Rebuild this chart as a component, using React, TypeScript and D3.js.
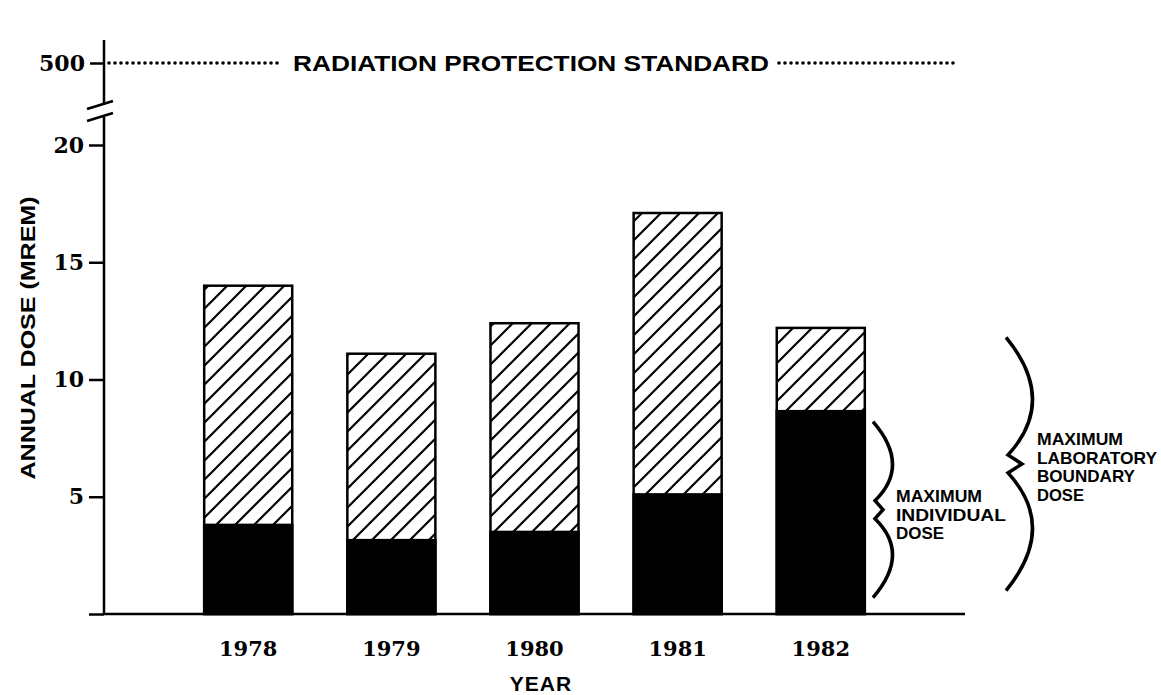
import React, { useRef, useEffect } from "react";
import * as d3 from "d3";

// values (mrem)
const years = ["1978", "1979", "1980", "1981", "1982"];
const boundaryDose = [14.0, 11.1, 12.4, 17.1, 12.2];
const individualDose = [3.8, 3.15, 3.5, 5.1, 8.65];
const lowerTicks = [0, 5, 10, 15, 20];
const upperTicks = [500];
const standardDose = 500;
const standardLabel = "RADIATION PROTECTION STANDARD";
const braceRanges = [
  [0.7, 8.2],
  [1.0, 11.8],
];
const braceLabels = [
  ["MAXIMUM", "INDIVIDUAL", "DOSE"],
  ["MAXIMUM", "LABORATORY", "BOUNDARY", "DOSE"],
];
// printed widths of the label lines, px
const braceLabelWidths = [
  [86, 110, 48],
  [86, 120, 98, 47],
];

const W = 1161;
const H = 695;
const axisX = 104;
const axisEnd = 965;
const baseY = 614;
const numFont = "'DejaVu Serif', serif";
const txtFont = "'Liberation Sans', Arial, sans-serif";

// brace drawn like the plotter one: two bulging arcs with a small notch pointing right
function bracePath(x0: number, top: number, bot: number, bulge: number, cusp: number) {
  const mid = (top + bot) / 2;
  const p = d3.path();
  p.moveTo(x0, top);
  p.quadraticCurveTo(x0 + bulge * 2, (top + mid) / 2, x0 + 2, mid - 9);
  p.lineTo(x0 + cusp, mid);
  p.lineTo(x0 + 2, mid + 9);
  p.quadraticCurveTo(x0 + bulge * 2, (mid + bot) / 2, x0, bot);
  return p.toString();
}

const App = () => {
  const yAxisRef = useRef<SVGGElement>(null);
  const topAxisRef = useRef<SVGGElement>(null);
  const xAxisRef = useRef<SVGGElement>(null);

  const x = d3
    .scaleBand<string>()
    .domain(years)
    .range([axisX, axisEnd])
    .paddingInner(0.385)
    .paddingOuter(0.7);
  const y = d3.scaleLinear().domain([0, 20]).range([baseY, 145]);
  const yTop = d3.scaleLinear().domain([490, 510]).range([73, 53]);

  useEffect(() => {
    const yAxis = d3
      .axisLeft(y)
      .tickValues(lowerTicks)
      .tickSize(15)
      .tickPadding(5)
      .tickFormat((d) => (d === 0 ? "" : String(d)));
    const g = d3.select(yAxisRef.current!);
    g.call(yAxis);
    g.select(".domain").remove();
    g.selectAll(".tick line").attr("stroke-width", 2.5);
    g.selectAll(".tick text")
      .attr("font-family", numFont)
      .attr("font-weight", "bold")
      .attr("font-size", 22)
      .attr("fill", "#000");

    const topAxis = d3.axisLeft(yTop).tickValues(upperTicks).tickSize(14).tickPadding(5);
    const gt = d3.select(topAxisRef.current!);
    gt.call(topAxis);
    gt.select(".domain").remove();
    gt.selectAll(".tick line").attr("stroke-width", 2.5);
    gt.selectAll(".tick text")
      .attr("font-family", numFont)
      .attr("font-weight", "bold")
      .attr("font-size", 22)
      .attr("fill", "#000");

    const xAxis = d3.axisBottom(x).tickSize(0).tickPadding(27);
    const gx = d3.select(xAxisRef.current!);
    gx.call(xAxis);
    gx.select(".domain").remove();
    gx.selectAll(".tick text")
      .attr("font-family", numFont)
      .attr("font-weight", "bold")
      .attr("font-size", 21)
      .attr("fill", "#000");
  }, []);

  const bw = x.bandwidth();
  const y500 = yTop(standardDose);

  return (
    <svg
      width={W}
      height={H}
      style={{ position: "absolute", left: 0, top: 0, background: "#fff" }}
    >
      <defs>
        <pattern id="hatch" patternUnits="userSpaceOnUse" width={19} height={19}>
          <rect width={19} height={19} fill="#fff" />
          <path d="M-3,3 l6,-6 M0,19 l19,-19 M16,22 l6,-6" stroke="#000" strokeWidth={2.2} />
        </pattern>
      </defs>

      {/* axis lines with break */}
      <line x1={axisX} x2={axisX} y1={40} y2={105} stroke="#000" strokeWidth={2.5} />
      <line x1={axisX} x2={axisX} y1={117} y2={baseY} stroke="#000" strokeWidth={2.5} />
      <line x1={87} y1={109} x2={113} y2={101} stroke="#000" strokeWidth={2.5} />
      <line x1={87} y1={121} x2={113} y2={113} stroke="#000" strokeWidth={2.5} />
      <line x1={axisX} x2={axisEnd} y1={baseY} y2={baseY} stroke="#000" strokeWidth={2.5} />

      <g ref={yAxisRef} transform={`translate(${axisX},0)`} />
      <g ref={topAxisRef} transform={`translate(${axisX},0)`} />
      <g ref={xAxisRef} transform={`translate(0,${baseY})`} />

      {/* radiation protection standard */}
      <line
        x1={axisX + 5}
        x2={283}
        y1={y500}
        y2={y500}
        stroke="#000"
        strokeWidth={3.6}
        strokeLinecap="round"
        strokeDasharray="0 6"
      />
      <line
        x1={779}
        x2={955}
        y1={y500}
        y2={y500}
        stroke="#000"
        strokeWidth={3.6}
        strokeLinecap="round"
        strokeDasharray="0 6"
      />
      <text
        x={293}
        y={y500 + 8}
        fontFamily={txtFont}
        fontWeight="bold"
        fontSize={22}
        textLength={476}
        lengthAdjust="spacingAndGlyphs"
      >
        {standardLabel}
      </text>

      {/* bars */}
      {years.map((yr, i) => (
        <g key={yr}>
          <rect
            x={x(yr)}
            y={y(boundaryDose[i])}
            width={bw}
            height={baseY - y(boundaryDose[i])}
            fill="url(#hatch)"
            stroke="#000"
            strokeWidth={2.5}
          />
          <rect
            x={x(yr)}
            y={y(individualDose[i])}
            width={bw}
            height={baseY - y(individualDose[i])}
            fill="#000"
            stroke="#000"
            strokeWidth={2.5}
          />
        </g>
      ))}

      {/* braces */}
      <path
        d={bracePath(873, y(braceRanges[0][1]), y(braceRanges[0][0]), 19, 10)}
        fill="none"
        stroke="#000"
        strokeWidth={3.5}
      />
      <path
        d={bracePath(1006, y(braceRanges[1][1]), y(braceRanges[1][0]), 26, 16)}
        fill="none"
        stroke="#000"
        strokeWidth={3.5}
      />
      {braceLabels[0].map((t, i) => (
        <text
          key={"a" + i}
          x={896}
          y={502 + i * 18.5}
          fontFamily={txtFont}
          fontWeight="bold"
          fontSize={17}
          textLength={braceLabelWidths[0][i]}
          lengthAdjust="spacingAndGlyphs"
        >
          {t}
        </text>
      ))}
      {braceLabels[1].map((t, i) => (
        <text
          key={"b" + i}
          x={1037}
          y={445 + i * 18.5}
          fontFamily={txtFont}
          fontWeight="bold"
          fontSize={17}
          textLength={braceLabelWidths[1][i]}
          lengthAdjust="spacingAndGlyphs"
        >
          {t}
        </text>
      ))}

      {/* axis titles */}
      <text
        x={541}
        y={691}
        textAnchor="middle"
        fontFamily={txtFont}
        fontWeight="bold"
        fontSize={21}
        letterSpacing={1}
      >
        YEAR
      </text>
      <text
        transform={`translate(35,338) rotate(-90)`}
        textAnchor="middle"
        fontFamily={txtFont}
        fontWeight="bold"
        fontSize={21}
        textLength={283}
        lengthAdjust="spacingAndGlyphs"
      >
        ANNUAL DOSE (MREM)
      </text>
    </svg>
  );
};

export default App;
